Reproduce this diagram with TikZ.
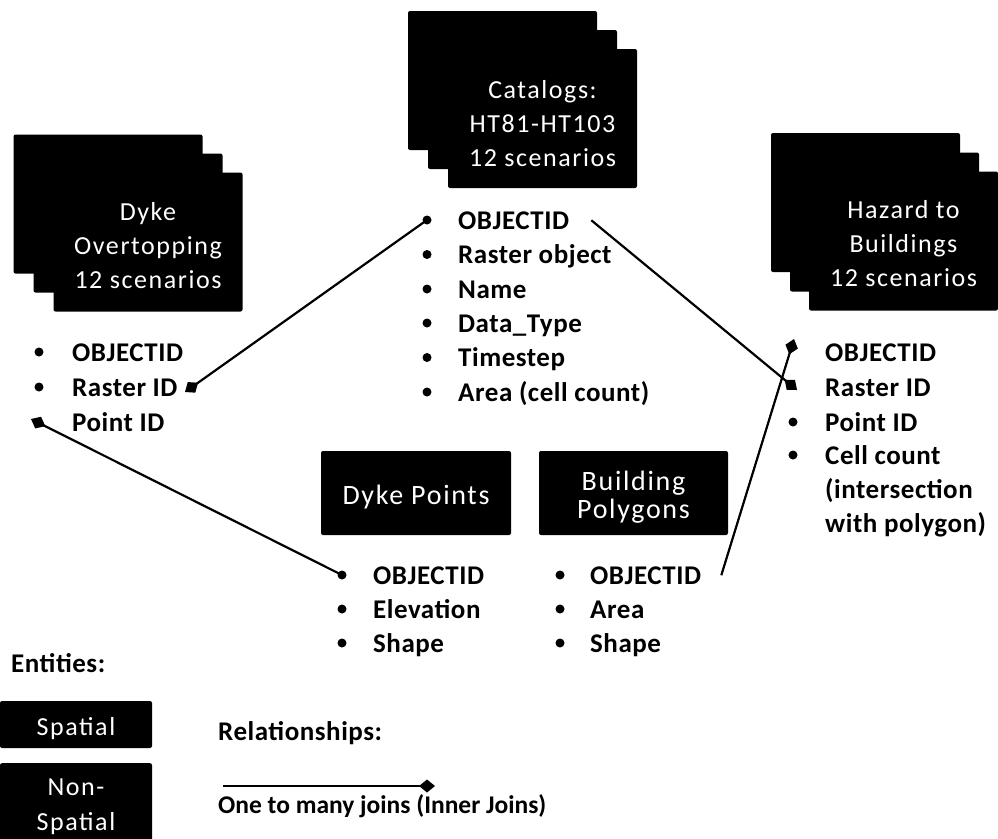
\documentclass[tikz,border=0pt]{standalone}
\usepackage{fontspec}
\setmainfont{Carlito}
\newfontfamily\boxfont[LetterSpace=6]{Carlito}
\newfontfamily\attrfont[LetterSpace=2]{Carlito}
\usetikzlibrary{arrows.meta}
\newcommand\btext[2]{\raisebox{#1}[\height][\depth]{\begin{tabular}{@{}c@{}}#2\end{tabular}}}
\begin{document}
\begin{tikzpicture}[x=1pt,y=-1pt,
  stackbox/.style={fill=black,text=white,rounded corners=2pt,inner sep=0pt,
    minimum width=189pt,minimum height=139pt,align=center,
    font=\boxfont\fontsize{26}{34}\selectfont},
  entbox/.style={fill=black,text=white,rounded corners=2pt,inner sep=0pt,
    minimum width=190pt,minimum height=84pt,align=center,
    font=\boxfont\fontsize{28}{28}\selectfont},
  legbox/.style={fill=black,text=white,rounded corners=2pt,inner sep=0pt,
    minimum width=152pt,align=center,font=\boxfont\fontsize{26}{35}\selectfont},
  attr/.style={anchor=base west,inner sep=0pt,font=\attrfont\bfseries\fontsize{27}{32}\selectfont},
  bul/.style={circle,fill=black,inner sep=0pt,minimum size=9pt},
  heading/.style={anchor=base west,inner sep=0pt,font=\attrfont\bfseries\fontsize{27}{30}\selectfont},
  conn/.style={line width=2.2pt,-{Diamond[length=16pt,width=13pt]}}
]
\useasboundingbox (0,0) rectangle (998,838);

% ---- Dyke Overtopping stack
\node[stackbox] (dov3) at (108,204) {};
\node[stackbox] (dov2) at (128,223) {};
\node[stackbox] (dov)  at (148,242) {\btext{-6pt}{Dyke\\Overtopping\\12 scenarios}};

% ---- Catalogs stack
\node[stackbox] (cat3) at (502.5,80.5) {};
\node[stackbox] (cat2) at (522.5,99.5) {};
\node[stackbox] (cat)  at (542.5,118.5) {\btext{-7pt}{Catalogs:\\HT81-HT103\\12 scenarios}};

% ---- Hazard stack
\node[stackbox] (hz3) at (865.5,202.5) {};
\node[stackbox] (hz2) at (884.5,222) {};
\node[stackbox] (hz)  at (903.5,241) {\btext{-5pt}{Hazard to\\Buildings\\12 scenarios}};

% ---- Dyke Points / Building Polygons
\node[entbox] (dp) at (416,493) {\btext{-6pt}{Dyke Points}};
\node[entbox,minimum width=189pt] (bp) at (633.5,493) {\btext{-6pt}{Building\\Polygons}};

% ---- Dyke Overtopping attributes
\node[bul] (do1-b) at (39,352) {};
\node[attr] (do1) at (72,361) {OBJECTID};
\node[bul] (do2-b) at (39,387) {};
\node[attr] (do2) at (72,396) {Raster ID};
\coordinate (do3-b) at (31,419);
\node[attr] (do3) at (72,431) {Point ID};
\coordinate (do2-m) at (185,392);

% ---- Catalogs attributes
\node[bul] (ca1-b) at (427,220) {};
\node[attr] (ca1) at (458,229) {OBJECTID};
\node[bul] (ca2-b) at (427,254.5) {};
\node[attr] (ca2) at (458,263.5) {Raster object};
\node[bul] (ca3-b) at (427,289) {};
\node[attr] (ca3) at (458,298) {Name};
\node[bul] (ca4-b) at (427,323) {};
\node[attr] (ca4) at (458,332) {Data\_Type};
\node[bul] (ca5-b) at (427,357.5) {};
\node[attr] (ca5) at (458,366.5) {Timestep};
\node[bul] (ca6-b) at (427,392) {};
\node[attr] (ca6) at (458,401) {Area (cell count)};

% ---- Hazard attributes
\coordinate (hz1-b) at (794,339);
\node[attr] (hz1) at (825,361) {OBJECTID};
\coordinate (hz2-b) at (797,390);
\node[attr] (hz2a) at (825,396) {Raster ID};
\node[bul] (hz3-b) at (793,422) {};
\node[attr] (hz3a) at (825,431) {Point ID};
\node[bul] (hz4-b) at (793,455) {};
\node[attr] (hz4) at (825,464) {Cell count};
\node[attr] (hz5) at (825,498) {(intersection};
\node[attr] (hz6) at (825,532) {with polygon)};

% ---- Dyke Points attributes
\node[bul] (dp1-b) at (342,575) {};
\node[attr] (dp1) at (373,584) {OBJECTID};
\node[bul] (dp2-b) at (342,609) {};
\node[attr] (dp2) at (373,618) {Elevation};
\node[bul] (dp3-b) at (342,643) {};
\node[attr] (dp3) at (373,652) {Shape};

% ---- Building Polygons attributes
\node[bul] (bp1-b) at (560,575) {};
\node[attr] (bp1) at (590,584) {OBJECTID};
\node[bul] (bp2-b) at (560,609) {};
\node[attr] (bp2) at (590,618) {Area};
\node[bul] (bp3-b) at (560,643) {};
\node[attr] (bp3) at (590,652) {Shape};

% ---- connectors
\draw[conn] (ca1-b.center) -- (do2-m);
\draw[conn] ([xshift=22pt]ca1.east) -- (hz2-b);
\draw[conn] (dp1-b.center) -- (do3-b);
\draw[conn] ([xshift=20pt]bp1.east) -- (hz1-b);

% ---- legend
\node[heading] (ent) at (11,672) {Entities:};
\node[legbox,minimum height=47pt] (spat) at (76,724.5) {\btext{-4pt}{Spatial}};
\node[legbox,minimum height=82pt,anchor=north] (nonsp) at (76,763) {\btext{-2pt}{Non-\\Spatial}};
\node[heading] (rel) at (218,740) {Relationships:};
\coordinate (lg1) at (223,786);
\coordinate (lg2) at (435,786);
\draw[conn] (lg1) -- (lg2);
\node[heading,font=\bfseries\fontsize{25.5}{30}\selectfont] (otm) at (218,813) {One to many joins (Inner Joins)};
\end{tikzpicture}
\end{document}
